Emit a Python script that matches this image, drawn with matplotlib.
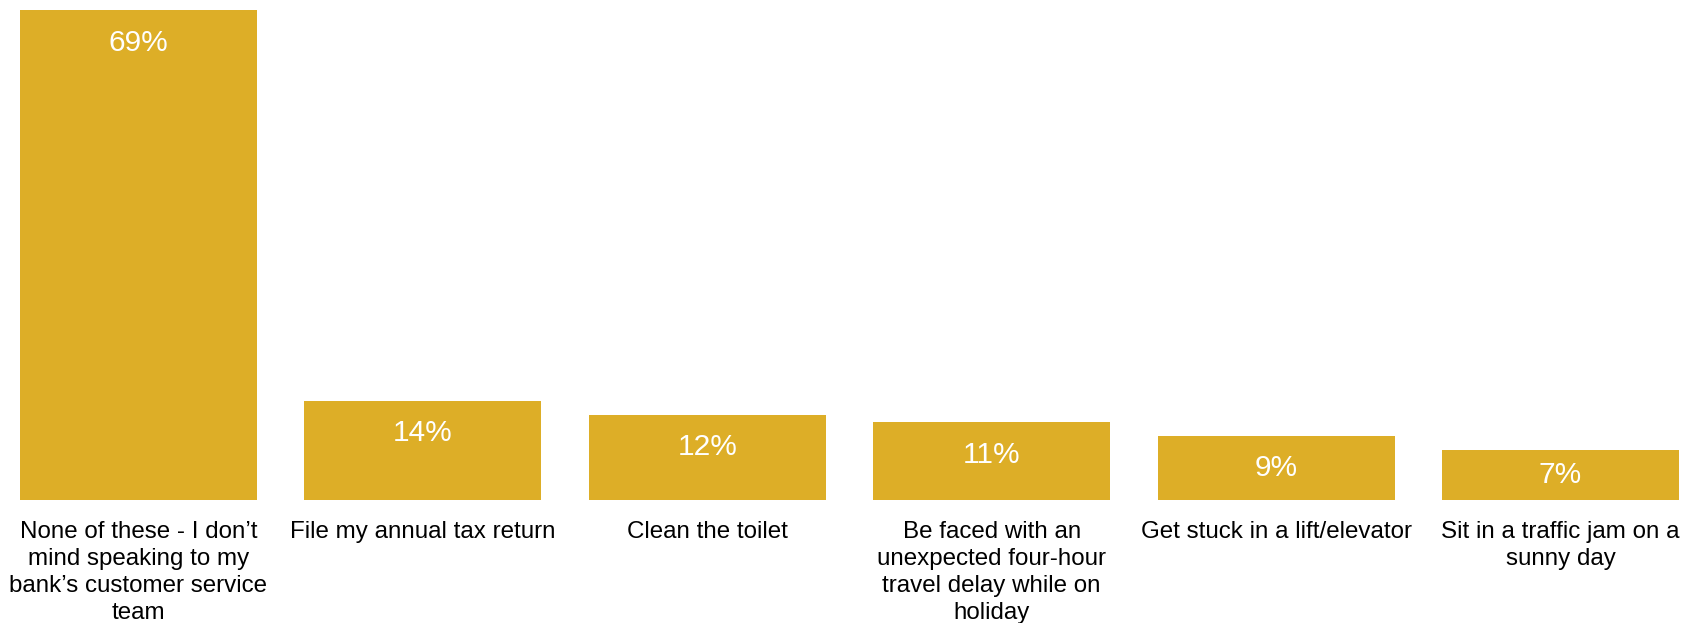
import matplotlib
matplotlib.use("Agg")
from matplotlib import pyplot as plt

categories = [
    "None of these - I don\u2019t\nmind speaking to my\nbank\u2019s customer service\nteam",
    "File my annual tax return",
    "Clean the toilet",
    "Be faced with an\nunexpected four-hour\ntravel delay while on\nholiday",
    "Get stuck in a lift/elevator",
    "Sit in a traffic jam on a\nsunny day",
]
values = [69, 14, 12, 11, 9, 7]
bar_color = "#DDAE27"

plt.rcParams["font.family"] = ["Liberation Sans", "DejaVu Sans"]

fig = plt.figure(figsize=(16.87, 6.23), dpi=100)
ax = fig.add_axes([0, 123 / 623, 1, 497 / 623])

xs = list(range(len(values)))
ax.bar(xs, values, width=0.833, color=bar_color, linewidth=0)

# value labels sit just inside the top of each bar (centred on short bars)
for x, v in zip(xs, values):
    y = max(v - 4.6, v / 2)
    ax.text(x, y, f"{v}%", ha="center", va="center", color="white", fontsize=21.5)

ax.set_xlim(-0.487, 5.445)
ax.set_ylim(0, 70)
ax.set_xticks(xs)
ax.set_xticklabels(categories, fontsize=17.4, linespacing=1.3)
ax.tick_params(axis="x", length=0, pad=15)
ax.set_yticks([])
for s in ax.spines.values():
    s.set_visible(False)

fig.savefig("out.png", dpi=100)
